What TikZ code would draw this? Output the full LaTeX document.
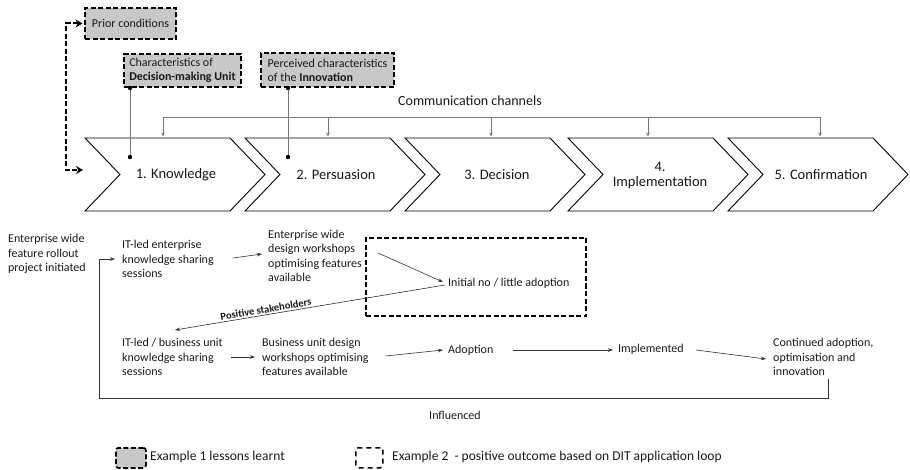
\documentclass[tikz,border=0pt]{standalone}
\usepackage{fontspec}
\setmainfont{Carlito}
\usetikzlibrary{arrows.meta}
\definecolor{boxgray}{RGB}{200,200,200}
\definecolor{linegray}{RGB}{120,120,120}
\begin{document}
\begin{tikzpicture}[x=1pt,y=-1pt,
  every node/.style={inner sep=0pt, text=black!90},
  chev/.style={draw=black, line width=0.9pt, fill=white, line join=miter},
  big/.style={font=\fontsize{14.5}{15.5}\selectfont, align=center},
  mid/.style={font=\fontsize{14}{16}\selectfont},
  txt/.style={font=\fontsize{12}{14.5}\selectfont, align=left, anchor=west},
  dbox/.style={draw=black, line width=2pt, dash pattern=on 5pt off 2.5pt, fill=boxgray, inner sep=3pt, font=\fontsize{12}{14}\selectfont, align=left, anchor=north west},
  dashbox/.style={draw=black, line width=2pt, dash pattern=on 5pt off 2.5pt, anchor=north west},
  gline/.style={draw=linegray, line width=0.7pt},
  arr/.style={draw=black!80, line width=0.6pt, -{Stealth[length=5pt,width=3.5pt]}},
  carr/.style={draw=linegray, line width=0.7pt, -{Stealth[length=4pt,width=3.5pt]}},
  dotc/.style={fill=black},
  darr/.style={draw=black, line width=2pt, dash pattern=on 5pt off 2.5pt, {Stealth[length=7pt,width=8pt]}-{Stealth[length=7pt,width=8pt]}}
]
\path[use as bounding box] (0,0) rectangle (910,470);

% chevrons
\foreach \s in {85,245,405,568,728}{
  \draw[chev] (\s,138) -- ++(145,0) -- ++(35,36.5) -- ++(-35,36.5) -- ++(-145,0) -- ++(35,-36.5) -- cycle;
}
\node[big] (c1) at (176,175) {1. Knowledge};
\node[big] (c2) at (336,175) {2. Persuasion};
\node[big] (c3) at (497,175) {3. Decision};
\node[big] (c4) at (660,175.5) {4.\\Implementation};
\node[big] (c5) at (821,175) {5. Confirmation};

% communication channels
\node[mid] (cc) at (470,101) {Communication channels};
\coordinate (cl) at (163,117);
\coordinate (cr) at (820,117);
\draw[gline] (cl) -- (cr);
\foreach \x in {163,328,491,648,820}{
  \draw[carr] (\x,117) -- (\x,136.5);
}

% prior conditions boxes
\node[dbox, minimum width=91pt, minimum height=31pt, align=center] (prior) at (84,7) {Prior conditions};
\node[dbox, minimum width=117pt, minimum height=33pt] (dmu) at (123,53) {Characteristics of\\\textbf{Decision-making Unit}};
\node[dbox, minimum width=133pt, minimum height=34pt] (pci) at (260,52) {Perceived characteristics\\of the \textbf{Innovation}};

\coordinate (d1) at (130,157);
\coordinate (d2) at (288,157);
\draw[gline] ([xshift=7pt]dmu.south west) -- (d1);
\draw[gline] ([xshift=28pt]pci.south west) -- (d2);
\fill[dotc] ([xshift=7pt]dmu.south west) circle (2.2pt);
\fill[dotc] ([xshift=28pt]pci.south west) circle (2.2pt);
\fill[dotc] (d1) circle (2.2pt);
\fill[dotc] (d2) circle (2.2pt);

% dashed feedback to prior conditions
\coordinate (pin) at (83,170);
\draw[darr] ([xshift=-1.5pt]prior.west) -| (66,170) -- (pin);

% lower part
\node[txt] (n0) at (8,254) {Enterprise wide\\feature rollout\\project initiated};
\node[txt] (n1) at (122,259) {IT-led enterprise\\knowledge sharing\\sessions};
\node[txt] (n2) at (268,256) {Enterprise wide\\design workshops\\optimising features\\available};
\node[dashbox, minimum width=220pt, minimum height=78pt] (ex2) at (365,237) {};
\node[txt] (n3) at (448,283) {Initial no / little adoption};
\node[txt] (n4) at (122,357) {IT-led / business unit\\knowledge sharing\\sessions};
\node[txt] (n5) at (262,357) {Business unit design\\workshops optimising\\features available};
\node[txt] (n6) at (448,350) {Adoption};
\node[txt] (n7) at (618,349) {Implemented};
\node[txt] (n8) at (773,357) {Continued adoption,\\optimisation and\\innovation};
\node[font=\fontsize{12}{14}\selectfont] (infl) at (455,415) {Influenced};

\draw[arr] ([xshift=19pt,yshift=1pt]n1.east) -- ([xshift=-6pt,yshift=2pt]n2.west);
\draw[arr] ([xshift=16pt,yshift=3pt]n2.east) -- ([xshift=-5pt,yshift=1pt]n3.west);
\draw[arr] ([xshift=-3pt,yshift=-2pt]n3.west) -- node[pos=0.66, sloped, above=1.5pt, font=\fontsize{10.5}{12}\selectfont\bfseries] {Positive stakeholders} ([xshift=53pt,yshift=27pt]n4.west);
\draw[arr] ([xshift=8pt]n4.east) -- ([xshift=-7pt]n5.west);
\draw[arr] ([xshift=17pt,yshift=1pt]n5.east) -- ([xshift=-5pt]n6.west);
\draw[arr] ([xshift=19pt]n6.east) -- ([xshift=-5pt,yshift=-1pt]n7.west);
\draw[arr] ([xshift=12pt,yshift=-1pt]n7.east) -- ([xshift=-7pt,yshift=-2pt]n8.west);
\coordinate (lb) at (99,398);
\draw[arr] ([xshift=55pt,yshift=-3pt]n8.south west) |- (lb) |- ([xshift=-7pt]n1.west);

% legend
\node[dbox, rounded corners=2.5pt, line width=1.8pt, minimum width=30pt, minimum height=20pt] (lg1) at (115,447) {};
\node[txt, font=\fontsize{13.5}{15}\selectfont] (lt1) at (150,457) {Example 1 lessons learnt};
\node[dashbox, rounded corners=2.5pt, line width=1.5pt, dash pattern=on 5pt off 4pt, minimum width=27pt, minimum height=20pt] (lg2) at (355,447) {};
\node[txt, font=\fontsize{13.5}{15}\selectfont] (lt2) at (392,457) {Example 2\ \ - positive outcome based on DIT application loop};
\end{tikzpicture}
\end{document}
